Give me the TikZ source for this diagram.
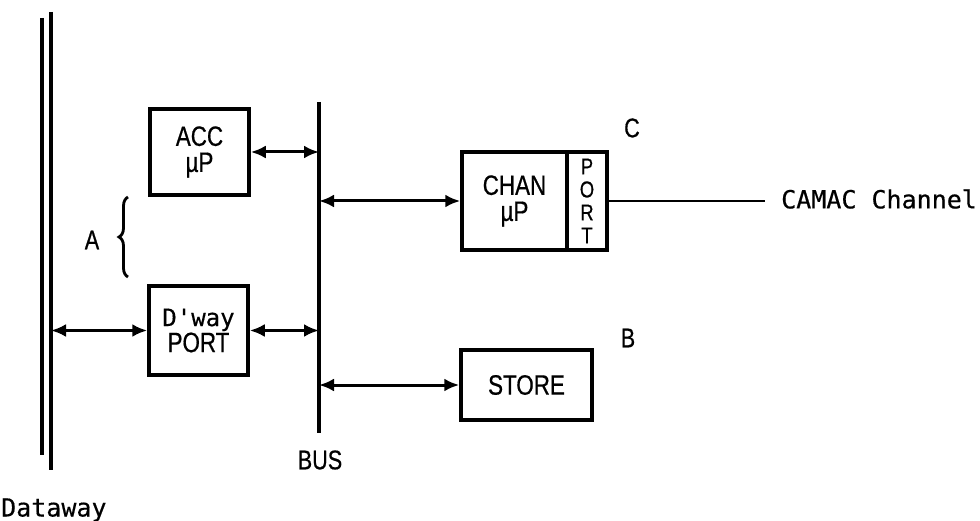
\documentclass[tikz,border=0pt]{standalone}
\usepackage{fontspec}
\setmainfont{Liberation Sans}[FakeStretch=0.8,FakeBold=0.6]
\newfontfamily\monof{DejaVu Sans Mono}[FakeBold=0.5]
\usetikzlibrary{arrows.meta,decorations.pathreplacing}
\begin{document}
\begin{tikzpicture}[x=1pt,y=-1pt,
  blk/.style={draw,line width=3.5pt,inner sep=0pt,font=\fontsize{28}{30}\selectfont,align=center},
  lbl/.style={inner sep=0pt,font=\fontsize{27}{28}\selectfont},
  mono/.style={inner sep=0pt,font=\monof\fontsize{25}{28}\selectfont},
  rail/.style={line width=3.5pt},
  link/.style={line width=3pt,{Latex[length=15pt,width=13pt]}-{Latex[length=15pt,width=13pt]}}]
\useasboundingbox (0,0) rectangle (980,521);
% Dataway double line
\coordinate (dwLt) at (42,18); \coordinate (dwLb) at (42,455);
\coordinate (dwRt) at (51,12); \coordinate (dwRb) at (51,470);
\draw[rail] (dwLt) -- (dwLb);
\draw[rail] (dwRt) -- (dwRb);
% Bus
\coordinate (bust) at (319,102); \coordinate (busb) at (319,433);
\draw[rail] (bust) -- (busb);
% Boxes
\node[blk,minimum width=99pt,minimum height=86pt] (acc) at (199.5,152) {ACC\\[-4pt]µP};
\node[blk,minimum width=99pt,minimum height=89pt] (dway) at (198.5,330.5) {{\monof\fontsize{24}{26}\selectfont D'way}\\[-4pt]PORT};
\node[blk,minimum width=105pt,minimum height=98pt] (chan) at (514.5,201) {CHAN\\[-4pt]µP};
\node[blk,minimum width=40pt,minimum height=98pt,font=\fontsize{23}{23}\selectfont] (port) at (587,201) {P\\O\\R\\T};
\node[blk,minimum width=131pt,minimum height=70pt] (store) at (526.5,385) {STORE};
% Connectors
\draw[link] (acc.east) -- (acc.east -| bust);
\draw[link] (dway.west -| dwRt) -- (dway.west);
\draw[link] (dway.east) -- (dway.east -| bust);
\draw[link] (chan.west -| bust) -- (chan.west);
\draw[link] (store.west -| bust) -- (store.west);
\coordinate (camacend) at (765,201);
\draw[line width=2.8pt] (port.east) -- (camacend);
% Brace
\coordinate (brb) at (128,277); \coordinate (brt) at (128,197);
\draw[line width=2.8pt,decorate,decoration={brace,amplitude=9pt}] (brb) -- (brt);
% Labels
\node[lbl] (la) at (92,240) {A};
\node[lbl] (lc) at (632,128) {C};
\node[lbl] (lb) at (628,338) {B};
\node[lbl] (lbus) at (320,460) {BUS};
\node[mono,anchor=west] (lcamac) at (781,199) {CAMAC Channel};
\node[mono,anchor=west] (ldw) at (1,510) {Dataway};
\end{tikzpicture}
\end{document}
